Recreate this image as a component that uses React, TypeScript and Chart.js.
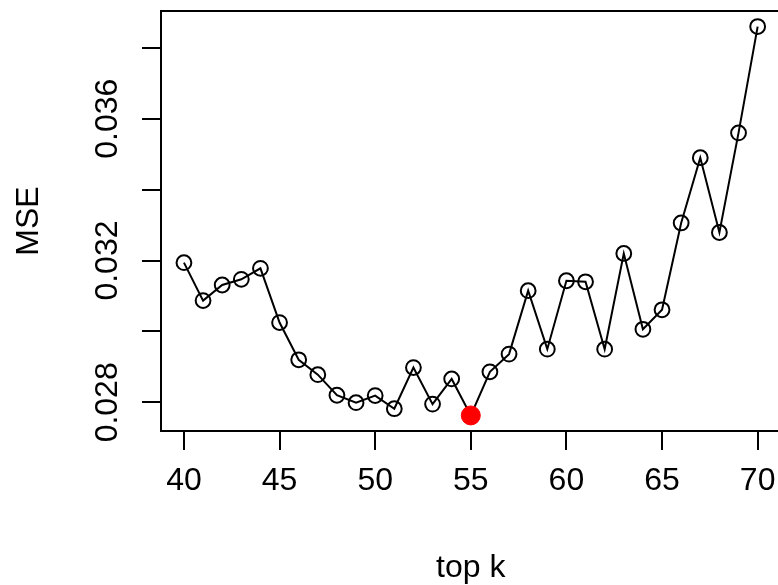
import React, { useEffect, useRef } from "react";
import { Chart, registerables } from "chart.js";

Chart.register(...registerables);

const topK = [40, 41, 42, 43, 44, 45, 46, 47, 48, 49, 50, 51, 52, 53, 54, 55, 56, 57, 58, 59, 60, 61, 62, 63, 64, 65, 66, 67, 68, 69, 70];
const mse = [
  0.03194, 0.03087, 0.03131, 0.03147, 0.03178, 0.03025, 0.0292, 0.02878, 0.0282, 0.02799,
  0.02819, 0.02782, 0.02898, 0.02795, 0.02866, 0.02763, 0.02886, 0.02936, 0.03115, 0.0295,
  0.03143, 0.0314, 0.0295, 0.0322, 0.03006, 0.03061, 0.03306, 0.0349, 0.03279, 0.0356, 0.0386,
];
const bestK = 55;
const xTicks = [40, 45, 50, 55, 60, 65, 70];
const yTicks = [0.028, 0.03, 0.032, 0.034, 0.036, 0.038];
const yTickLabels = ["0.028", "0.032", "0.036"];
const xTitle = "top k";
const yTitle = "MSE";

const FONT = '32px "Liberation Sans", Arial, Helvetica, sans-serif';

export default function App() {
  const ref = useRef<HTMLCanvasElement | null>(null);

  useEffect(() => {
    const canvas = ref.current;
    if (!canvas) return;
    const xMinD = Math.min(...topK);
    const xMaxD = Math.max(...topK);
    const yMinD = Math.min(...mse);
    const yMaxD = Math.max(...mse);
    const xr = xMaxD - xMinD;
    const yr = yMaxD - yMinD;

    const textPlugin = {
      id: "rtext",
      afterDraw(chart: any) {
        const { ctx, chartArea } = chart;
        const xs = chart.scales.x;
        const ys = chart.scales.y;
        ctx.save();
        ctx.strokeStyle = "#000";
        ctx.lineWidth = 2;
        ctx.beginPath();
        ctx.moveTo(chartArea.left - 1, chartArea.top);
        ctx.lineTo(chartArea.right + 1, chartArea.top);
        ctx.stroke();

        ctx.fillStyle = "#000";
        ctx.font = FONT;
        ctx.textAlign = "center";
        ctx.textBaseline = "alphabetic";
        for (const v of xTicks) {
          ctx.fillText(String(v), xs.getPixelForValue(v), chartArea.bottom + 59);
        }
        ctx.fillText(xTitle, (chartArea.left + chartArea.right) / 2, chartArea.bottom + 146);

        for (const lbl of yTickLabels) {
          const y = ys.getPixelForValue(parseFloat(lbl));
          ctx.save();
          ctx.translate(chartArea.left - 44, y);
          ctx.rotate(-Math.PI / 2);
          ctx.fillText(lbl, 0, 0);
          ctx.restore();
        }
        ctx.save();
        ctx.translate(chartArea.left - 123, (chartArea.top + chartArea.bottom) / 2);
        ctx.rotate(-Math.PI / 2);
        ctx.fillText(yTitle, 0, 0);
        ctx.restore();
        ctx.restore();
      },
    };

    const chart = new Chart(canvas, {
      type: "scatter",
      data: {
        datasets: [
          {
            data: topK.map((k, i) => ({ x: k, y: mse[i] })),
            showLine: true,
            borderColor: "#000",
            borderWidth: 2,
            pointRadius: topK.map((k) => (k === bestK ? 9.5 : 7.4)),
            pointBorderWidth: topK.map((k) => (k === bestK ? 1 : 2)),
            pointBorderColor: topK.map((k) => (k === bestK ? "#ff0000" : "#000")),
            pointBackgroundColor: topK.map((k) => (k === bestK ? "#ff0000" : "rgba(0,0,0,0)")),
            pointStyle: "circle",
            tension: 0,
          },
        ],
      },
      options: {
        responsive: false,
        animation: false,
        devicePixelRatio: 1,
        events: [],
        layout: { padding: { top: 11, right: 6, left: 0, bottom: 0 } },
        plugins: { legend: { display: false }, tooltip: { enabled: false }, title: { display: false } },
        scales: {
          x: {
            type: "linear",
            min: xMinD - 0.04 * xr,
            max: xMaxD + 0.04 * xr,
            afterBuildTicks: (s: any) => {
              s.ticks = xTicks.map((v) => ({ value: v }));
            },
            afterFit: (s: any) => {
              s.height = 154;
            },
            ticks: { display: false },
            grid: { drawOnChartArea: false, drawTicks: true, tickLength: 19, color: "#000", lineWidth: 2 },
            border: { display: true, color: "#000", width: 2 },
          },
          y: {
            type: "linear",
            min: yMinD - 0.04 * yr,
            max: yMaxD + 0.04 * yr,
            afterBuildTicks: (s: any) => {
              s.ticks = yTicks.map((v) => ({ value: v }));
            },
            afterFit: (s: any) => {
              s.width = 161;
            },
            ticks: { display: false },
            grid: { drawOnChartArea: false, drawTicks: true, tickLength: 19, color: "#000", lineWidth: 2 },
            border: { display: true, color: "#000", width: 2 },
          },
        },
      },
      plugins: [textPlugin],
    });
    return () => chart.destroy();
  }, []);

  return (
    <div style={{ position: "fixed", left: 0, top: 0, width: 778, height: 585, overflow: "hidden", background: "#fff" }}>
      <canvas ref={ref} width={790} height={585} style={{ width: 790, height: 585, display: "block" }} />
    </div>
  );
}
